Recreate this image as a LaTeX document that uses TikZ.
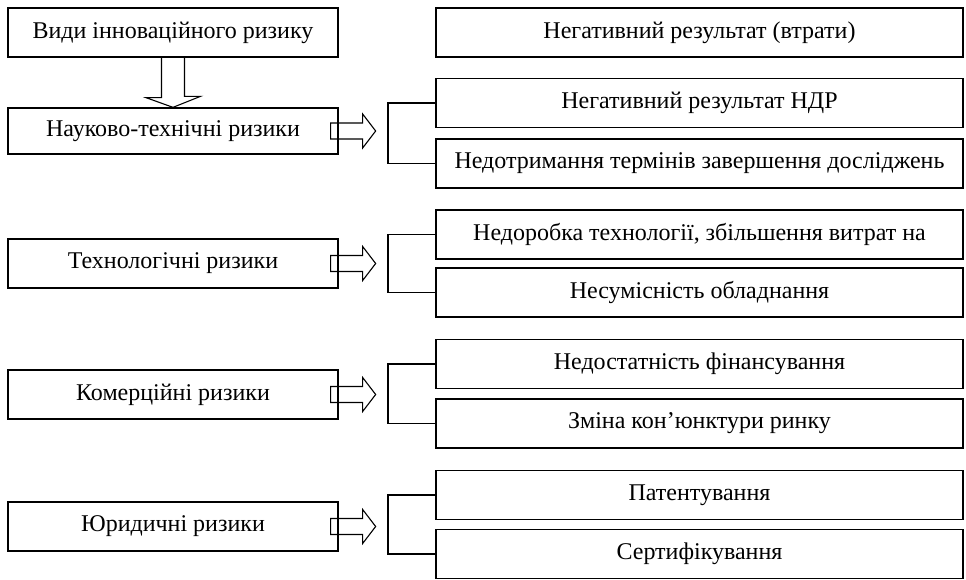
\documentclass[tikz,border=0pt]{standalone}
\usepackage{fontspec}
\setmainfont{Liberation Serif}
\begin{document}
\begin{tikzpicture}[x=1pt,y=-1pt,
  box/.style={draw,line width=1.3pt,inner sep=0pt,minimum height=49pt,
    font=\fontsize{24}{28}\selectfont},
  lbox/.style={box,minimum width=330pt},
  rbox/.style={box,minimum width=527pt},
  arr/.style={draw,line width=1.1pt,line join=miter},
  brk/.style={draw,line width=1.1pt}]
\useasboundingbox (0,0) rectangle (966,580);
% left column
\node[lbox] (v) at (173,32.5) {Види інноваційного ризику};
\node[lbox,minimum height=46pt] (n) at (173,131) {Науково-технічні ризики};
\node[lbox] (t) at (173,263.5) {Технологічні ризики};
\node[lbox] (k) at (173,394.5) {Комерційні ризики};
\node[lbox] (y) at (173,526.5) {Юридичні ризики};
% right column
\node[rbox] (r0) at (699.5,32.5) {Негативний результат (втрати)};
\node[rbox] (r1) at (699.5,103) {Негативний результат НДР};
\node[rbox] (r2) at (699.5,163.5) {Недотримання термінів завершення досліджень};
\node[rbox] (r3) at (699.5,234.5) {Недоробка технології, збільшення витрат на};
\node[rbox] (r4) at (699.5,292.5) {Несумісність обладнання};
\node[rbox] (r5) at (699.5,364) {Недостатність фінансування};
\node[rbox] (r6) at (699.5,423.5) {Зміна кон’юнктури ринку};
\node[rbox] (r7) at (699.5,495) {Патентування};
\node[rbox] (r8) at (699.5,554) {Сертифікування};
% down block arrow
\draw[arr] ([xshift=-11.5pt]v.south) -- ++(0,40) -- ++(-15.5,0) -- (n.north)
  -- ++(27.5,-11) -- ++(-16,0) -- ([xshift=11.5pt]v.south);
% right block arrows
\foreach \b in {n,t,k,y}{
  \draw[arr] ([xshift=-8pt,yshift=8pt]\b.east) -- ++(32,0) -- ++(0,-9) -- ++(13,17)
    -- ++(-13,17) -- ++(0,-9) -- ++(-32,0) -- cycle;
}
% brackets
\coordinate (bx) at (388,0);
\foreach \a/\c in {r1/r2,r3/r4,r5/r6,r7/r8}{
  \draw[brk] (\a.west) -- (\a.west -| bx) -- (\c.west -| bx) -- (\c.west);
}
\end{tikzpicture}
\end{document}
